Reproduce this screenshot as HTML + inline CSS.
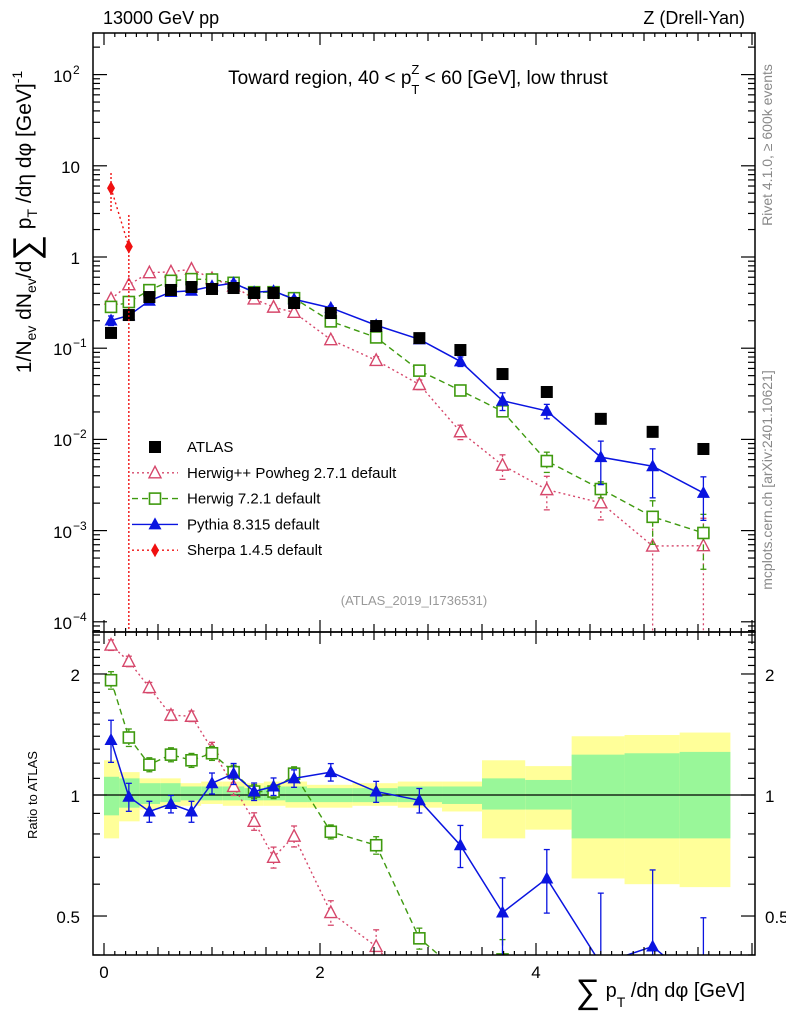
<!DOCTYPE html>
<html><head><meta charset="utf-8"><style>
html,body{margin:0;background:#fff;overflow:hidden;width:786px;height:1024px;}
svg{display:block;font-family:"Liberation Sans",Arial,sans-serif;}
</style></head><body>
<svg id="c" width="786" height="1024" viewBox="0 0 786 1024"></svg>
<script>
const xs=[0.065,0.23,0.42,0.62,0.81,1.0,1.2,1.39,1.57,1.76,2.1,2.52,2.92,3.3,3.69,4.1,4.6,5.08,5.55];
const atlas=[0.147,0.231,0.364,0.435,0.469,0.446,0.457,0.403,0.403,0.313,0.243,0.175,0.129,0.0955,0.0521,0.0331,0.0168,0.0121,0.00785];
const ratioHerwigPP=[2.36,2.15,1.85,1.58,1.57,1.30,1.05,0.86,0.70,0.79,0.51,0.42,0.31,0.127,0.10,0.085,0.12,0.056,0.087];
const ratioHerwig7=[1.93,1.39,1.19,1.26,1.22,1.27,1.14,1.02,1.02,1.13,0.81,0.75,0.44,0.36,0.39,0.175,0.17,0.117,0.12];
const ratioPythia=[1.37,0.99,0.91,0.95,0.91,1.07,1.13,1.02,1.05,1.10,1.14,1.02,0.97,0.75,0.51,0.62,0.38,0.42,0.33];
const errHerwigPP=[0.03,0.03,0.03,0.03,0.03,0.04,0.05,0.05,0.06,0.06,0.07,0.1,0.12,0.18,0.3,0.4,0.35,1,1];
const errHerwig7=[0.05,0.05,0.04,0.04,0.04,0.04,0.04,0.04,0.04,0.04,0.04,0.05,0.06,0.08,0.12,0.25,0.2,0.5,0.6];
const errPythia=[0.12,0.08,0.06,0.05,0.06,0.06,0.06,0.05,0.05,0.05,0.05,0.06,0.07,0.12,0.22,0.18,0.5,0.55,0.5];
const sherpaX=[0.065,0.23];
const sherpaY=[5.7,1.3];
const binEdges=[0,0.14,0.33,0.52,0.71,0.9,1.1,1.3,1.48,1.68,1.88,2.3,2.72,3.13,3.5,3.9,4.33,4.82,5.33,5.8];
const yelHi=[1.22,1.14,1.10,1.10,1.07,1.08,1.08,1.07,1.08,1.08,1.06,1.07,1.08,1.08,1.22,1.18,1.40,1.41,1.43];
const yelLo=[0.78,0.86,0.92,0.93,0.94,0.95,0.94,0.94,0.94,0.93,0.93,0.94,0.93,0.91,0.78,0.82,0.62,0.60,0.59];
const grnHi=[1.11,1.10,1.07,1.07,1.05,1.05,1.05,1.04,1.05,1.05,1.04,1.04,1.05,1.05,1.10,1.09,1.26,1.27,1.28];
const grnLo=[0.89,0.93,0.95,0.96,0.97,0.97,0.97,0.97,0.97,0.96,0.96,0.96,0.96,0.95,0.92,0.92,0.78,0.78,0.78];

const NS='http://www.w3.org/2000/svg';
const svg=document.getElementById('c');
function mk(tag,attrs,parent,text){const e=document.createElementNS(NS,tag);for(const k in attrs)e.setAttribute(k,attrs[k]);if(text!==undefined)e.textContent=text;(parent||svg).appendChild(e);return e;}
const L=93,R=755,T=33,MB=632,RB=955;
const X=v=>104+v*108;
const Y=v=>257-Math.log10(v)*91.2;
const RY=v=>795-Math.log10(v)*402;

const defs=mk('defs',{});
const cp1=mk('clipPath',{id:'cm'},defs);mk('rect',{x:L,y:T,width:R-L,height:MB-T},cp1);
const cp2=mk('clipPath',{id:'cr'},defs);mk('rect',{x:L,y:MB,width:R-L,height:RB-MB},cp2);

const gBand=mk('g',{'clip-path':'url(#cr)'});

for(let i=0;i<yelHi.length;i++){
  const x0=X(binEdges[i]),x1=X(binEdges[i+1]);
  const r=mk('rect',{x:x0,y:RY(yelHi[i]),width:x1-x0,height:RY(yelLo[i])-RY(yelHi[i]),fill:'#ffff99'},gBand);
  
  const g=mk('rect',{x:x0,y:RY(grnHi[i]),width:x1-x0,height:RY(grnLo[i])-RY(grnHi[i]),fill:'#99f799'},gBand);
  
}
mk('line',{x1:L,x2:R,y1:RY(1),y2:RY(1),stroke:'#000','stroke-width':1.2});

function marker(p,type,x,y,col){
  if(type==='sq'){mk('rect',{x:x-6,y:y-6,width:12,height:12,fill:col},p);}
  else if(type==='osq'){mk('rect',{x:x-5.5,y:y-5.5,width:11,height:11,fill:'#fff',stroke:col,'stroke-width':1.6},p);}
  else if(type==='tri'){mk('polygon',{points:`${x},${y-7} ${x-6.5},${y+5} ${x+6.5},${y+5}`,fill:col},p);}
  else if(type==='otri'){mk('polygon',{points:`${x},${y-6.5} ${x-6},${y+5} ${x+6},${y+5}`,fill:'#fff',stroke:col,'stroke-width':1.4},p);}
  else if(type==='dia'){mk('polygon',{points:`${x},${y-7} ${x-4},${y} ${x},${y+7} ${x+4},${y}`,fill:col},p);}
}
function series(name,clip,yf,vals,errs,col,dash,type,width){
  const g=mk('g',{'clip-path':clip});
  
  const pts=vals.map((v,i)=>X(xs[i])+','+yf(v)).join(' ');
  mk('polyline',{points:pts,fill:'none',stroke:col,'stroke-width':width,'stroke-dasharray':dash},g);
  vals.forEach((v,i)=>{
    const x=X(xs[i]);const e=errs[i];
    const lo=v*(1-e)>0?v*(1-e):v*1e-6;
    mk('line',{x1:x,x2:x,y1:yf(v*(1+e)),y2:yf(lo),stroke:col,'stroke-width':1.3,'stroke-dasharray':dash},g);
    mk('line',{x1:x-3,x2:x+3,y1:yf(v*(1+e)),y2:yf(v*(1+e)),stroke:col,'stroke-width':1.3},g);
    mk('line',{x1:x-3,x2:x+3,y1:yf(lo),y2:yf(lo),stroke:col,'stroke-width':1.3},g);
    marker(g,type,x,yf(v),col);
  });
}
const pink='#d6476b',green='#3f9a0f',blue='#0a14e0',red='#f01010';
const hpp=ratioHerwigPP.map((r,i)=>r*atlas[i]);
const h7=ratioHerwig7.map((r,i)=>r*atlas[i]);
const py=ratioPythia.map((r,i)=>r*atlas[i]);
series('herwigpp-main','url(#cm)',Y,hpp,errHerwigPP,pink,'2,3','otri',1.4);
series('herwig7-main','url(#cm)',Y,h7,errHerwig7,green,'6,4','osq',1.4);
series('pythia-main','url(#cm)',Y,py,errPythia,blue,'',  'tri',1.5);
const ga=mk('g',{'clip-path':'url(#cm)'});

atlas.forEach((v,i)=>marker(ga,'sq',X(xs[i]),Y(v),'#000'));
const gs=mk('g',{'clip-path':'url(#cm)'});

mk('polyline',{points:sherpaX.map((x,i)=>X(x)+','+Y(sherpaY[i])).join(' '),fill:'none',stroke:red,'stroke-width':1.4,'stroke-dasharray':'2,3'},gs);
mk('line',{x1:X(sherpaX[0]),x2:X(sherpaX[0]),y1:173,y2:212,stroke:red,'stroke-width':1.4,'stroke-dasharray':'2,2'},gs);
mk('line',{x1:X(sherpaX[1]),x2:X(sherpaX[1]),y1:215,y2:632,stroke:red,'stroke-width':1.4,'stroke-dasharray':'2,2'},gs);
sherpaX.forEach((x,i)=>marker(gs,'dia',X(x),Y(sherpaY[i]),red));
series('herwigpp-ratio','url(#cr)',RY,ratioHerwigPP,errHerwigPP,pink,'2,3','otri',1.4);
series('herwig7-ratio','url(#cr)',RY,ratioHerwig7,errHerwig7,green,'6,4','osq',1.4);
series('pythia-ratio','url(#cr)',RY,ratioPythia,errPythia,blue,'','tri',1.5);

mk('rect',{x:L,y:T,width:R-L,height:MB-T,fill:'none',stroke:'#000','stroke-width':1.5});
mk('rect',{x:L,y:MB,width:R-L,height:RB-MB,fill:'none',stroke:'#000','stroke-width':1.5});
const ticks=mk('g',{stroke:'#000','stroke-width':1.2});
for(let v=0;v<=6.0;v+=0.1){
  const x=X(v);if(x>R)break;const major=Math.abs(v-Math.round(v*2)/2)<1e-6;const isInt=Math.abs(v/2-Math.round(v/2))<1e-6&&major;
  const len=isInt?12:(major?8:4);
  [[T,1],[MB,-1],[MB,1],[RB,-1]].forEach(([y0,d])=>mk('line',{x1:x,x2:x,y1:y0,y2:y0+d*len},ticks));
}
for(let d=-5;d<=2;d++){for(let m=1;m<10;m++){const y=Y(m*Math.pow(10,d));if(y<T||y>MB)continue;const len=m===1?14:7;
  mk('line',{x1:L,x2:L+len,y1:y,y2:y},ticks);mk('line',{x1:R,x2:R-len,y1:y,y2:y},ticks);}}
[0.4,0.5,0.6,0.7,0.8,0.9,1,2].forEach(v=>{const y=RY(v);const len=(v===1||v===2||v===0.5)?14:7;
  mk('line',{x1:L,x2:L+len,y1:y,y2:y},ticks);mk('line',{x1:R,x2:R-len,y1:y,y2:y},ticks);});
[1.1,1.2,1.3,1.4,1.5,1.6,1.7,1.8,1.9,2.1,2.2,2.3,2.4,2.5].forEach(v=>{const y=RY(v);if(y<MB)return;
  mk('line',{x1:L,x2:L+7,y1:y,y2:y},ticks);mk('line',{x1:R,x2:R-7,y1:y,y2:y},ticks);});

function txt(x,y,s,size,anchor,name,extra){const t=mk('text',Object.assign({x:x,y:y,'font-size':size,'text-anchor':anchor||'start',fill:'#000'},extra||{}),svg,s);
  return t;}
const ylab=[['10','2',75],['10','',166],['1','',257],['10','−1',348],['10','−2',439],['10','−3',531],['10','−4',622]];
ylab.forEach(([b,e,y])=>{const t=mk('text',{x:e?72:80,y:y+7,'font-size':17,'text-anchor':'end'},svg,b);
  
  if(e){const s=mk('text',{x:73,y:y-1,'font-size':12},svg,e);}});
[['2',RY(2)],['1',RY(1)],['0.5',RY(0.5)]].forEach(([s,y])=>{txt(80,y+7,s,17,'end','ratio-tick-label-left');txt(765,y+7,s,17,'start','ratio-tick-label-right');});
[0,2,4].forEach(v=>txt(X(v),978,String(v),17,'middle','x-tick-label'));
txt(103,24,'13000 GeV pp',18,'start','energy-label');
txt(745,24,'Z (Drell-Yan)',18,'end','process-label');
const tt=mk('text',{x:418,y:84,'font-size':19,'text-anchor':'middle'},svg);

tt.innerHTML='Toward region, 40 &lt; p<tspan dy="10" font-size="13">T</tspan><tspan dy="-20" dx="-8" font-size="13">Z</tspan><tspan dy="10"> &lt; 60 [GeV], low thrust</tspan>';
txt(414,605,'(ATLAS_2019_I1736531)',13,'middle','analysis-id',{fill:'#999'});
txt(0,0,'Rivet 4.1.0, ≥ 600k events',14,'middle','rivet-label',{fill:'#888',transform:'translate(772,145) rotate(-90)'});
txt(0,0,'mcplots.cern.ch [arXiv:2401.10621]',14,'middle','mcplots-label',{fill:'#888',transform:'translate(772,480) rotate(-90)'});
txt(0,0,'Ratio to ATLAS',13,'middle','ratio-axis-title',{transform:'translate(37,795) rotate(-90)'});
const yt=mk('text',{'font-size':21,'text-anchor':'middle',transform:'translate(31,222) rotate(-90)'},svg);

yt.innerHTML='1/N<tspan font-size="14" dy="5">ev</tspan><tspan dy="-5"> dN</tspan><tspan font-size="14" dy="5">ev</tspan><tspan dy="-5">/d</tspan><tspan font-size="36" dy="7">∑</tspan><tspan dy="-7"> p</tspan><tspan font-size="14" dy="6">T</tspan><tspan dy="-6"> /dη dφ  [GeV]</tspan><tspan font-size="14" dy="-9">-1</tspan>';
const xt=mk('text',{x:745,y:997,'font-size':20,'text-anchor':'end'},svg);

xt.innerHTML='<tspan font-size="34" dy="6">∑</tspan><tspan dy="-6"> p</tspan><tspan font-size="14" dy="10">T</tspan><tspan dy="-10"> /dη dφ [GeV]</tspan>';

const legNames=['ATLAS','Herwig++ Powheg 2.7.1 default','Herwig 7.2.1 default','Pythia 8.315 default','Sherpa 1.4.5 default'];
const legCols=['#000',pink,green,blue,red];
const legDash=['','2,3','6,4','','2,3'];
const legType=['sq','otri','osq','tri','dia'];
legNames.forEach((n,i)=>{const y=447+i*25.8;const g=mk('g',{});
  
  if(i>0)mk('line',{x1:132,x2:178,y1:y,y2:y,stroke:legCols[i],'stroke-width':1.4,'stroke-dasharray':legDash[i]},g);
  marker(g,legType[i],155,y,legCols[i]);
  mk('text',{x:187,y:y+5,'font-size':15},g,n);});
</script>
</body></html>
